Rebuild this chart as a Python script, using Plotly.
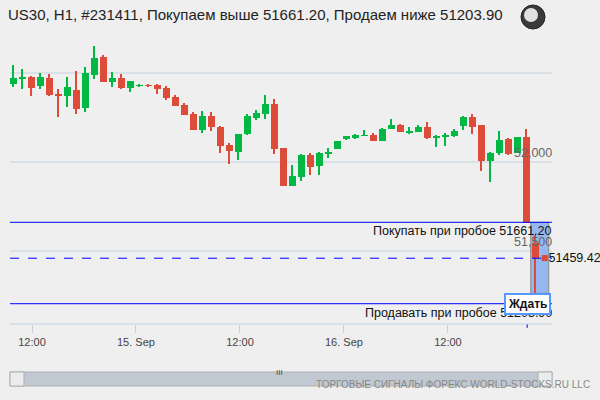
import plotly.graph_objects as go

OPEN = [52440,52468,52477.5,52428.6,52471.9,52382,52372.5,52404.5,52305,52490.4,
        52589.9,52451.1,52471.9,52417.4,52427,52432.6,52432.6,52415.7,52365.2,52320.2,
        52269.7,52181.5,52258.4,52196.6,52095.5,52057.9,52159,52248.9,52271.3,52325.8,
        52078.6,51866.9,51917.4,52039.3,51979.2,52046.6,52074.7,52129.2,52136.5,52147.7,
        52151.7,52119.7,52183.7,52207.8,52168.5,52170.2,52196.6,52138.8,52144.4,52147.7,
        52203.9,52252.8,52207.8,52007.3,52052.2,52129.2,52052.2,52140.4,51543.2]
CLOSE = [52470.2,52477.5,52417.4,52477.5,52378.1,52372.5,52421.3,52299.4,52500,52584.3,
         52451.1,52471.9,52417.4,52455,52432.6,52427,52411.8,52361.2,52316.3,52265.7,
         52181.5,52258.4,52198.3,52091.6,52063.5,52157.3,52258.4,52275.3,52325.8,52074.7,
         51866.9,51921.4,52039.3,51973.6,52050.5,52057.9,52118,52146.1,52151.7,52151.7,
         52119.7,52185.4,52207.8,52170.2,52174.1,52196.6,52136.5,52144.4,52153.4,52174.1,
         52252.8,52198.3,52007.3,52050.5,52123.6,52046.6,52140.4,51655.6,51459.42]
HIGH = [52544.9,52522.5,52483.1,52500,52494.4,52408.4,52477.5,52511.2,52533.7,52651.7,
        52601.1,52505.6,52494.4,52455,52438.2,52438.2,52438.2,52427,52376.4,52331.4,
        52280.9,52286.5,52280.9,52202.2,52106.7,52157.3,52269.7,52292.1,52376.4,52353.9,
        52078.6,51983.1,52044.9,52050.5,52056.2,52078.6,52118,52146.1,52157.3,52179.8,
        52162.9,52191,52241.6,52213.5,52196.6,52207.8,52224.7,52151.7,52162.9,52185.4,
        52258.4,52269.7,52207.8,52057.9,52174.1,52135.3,52140.4,52185.4,51589.9]
LOW = [52423,52411.8,52372.5,52411.8,52372.5,52254.5,52310.7,52271.3,52282.6,52468,
       52451.1,52423,52411.8,52394.9,52423,52423,52383.7,52350,52316.3,52265.7,
       52181.5,52164.6,52175.8,52052.2,51990.4,52012.9,52153.4,52237.6,52243.3,52046.6,
       51866.9,51866.9,51894.9,51928.7,51928.7,52024.1,52074.7,52123.6,52130.9,52146.1,
       52119.7,52119.7,52183.7,52170.2,52157.3,52170.2,52130.9,52086,52091.6,52142.1,
       52181.5,52159,51951.1,51889.3,52041,52041,52052.2,51655.6,51262.3]
TICK_LABELS = ["12:00", "15. Sep", "12:00", "16. Sep", "12:00"]
TICK_POS = [3.08, 14.63, 26.19, 37.74, 49.3]
BUY = 51661.20
SELL = 51203.90
PRICE = 51459.42
GRID = [52500, 52000, 51500]
GRID_LABELS = ["52,000", "51,500"]

GREEN = "#00b843"
RED = "#dd4b39"
BG = "#efefef"
Y0, Y1 = 51089.9, 52910.1
X0, X1 = 0.633, 60.86

idx = list(range(1, len(OPEN) + 1))
cols = [GREEN if c >= o else RED for o, c in zip(OPEN, CLOSE)]
body_base = [min(o, c) for o, c in zip(OPEN, CLOSE)]
body_h = [max(abs(c - o), 4) for o, c in zip(OPEN, CLOSE)]

fig = go.Figure()
fig.add_trace(go.Bar(x=idx, y=[h - l for h, l in zip(HIGH, LOW)], base=LOW,
                     width=0.14, marker=dict(color=cols, line_width=0), hoverinfo="skip"))
fig.add_trace(go.Bar(x=idx, y=body_h, base=body_base, width=0.76,
                     marker=dict(color=cols, line_width=0), hoverinfo="skip"))

def px(x): return (x - 10) / 542
def py(y): return (324 - y) / 324

shapes = []
for g in GRID:
    shapes.append(dict(type="line", xref="x", yref="y", x0=X0, x1=X1, y0=g, y1=g,
                       line=dict(color="#c4d0de", width=1), layer="below"))
for lv, d in [(BUY, "solid"), (SELL, "solid"), (PRICE, "dash")]:
    shapes.append(dict(type="line", xref="x", yref="y", x0=X0, x1=X1, y0=lv, y1=lv,
                       line=dict(color="#0000ff", width=1, dash=d)))
shapes.append(dict(type="rect", xref="x", yref="y", x0=58.5, x1=60.5, y0=BUY, y1=51262.3,
                   fillcolor="rgba(120,165,240,0.75)", line=dict(color="#888888", width=1),
                   layer="below"))
shapes.append(dict(type="line", xref="x", yref="paper", x0=58.1, x1=58.1, y0=0, y1=-0.012,
                   line=dict(color="#0000ff", width=1)))
shapes.append(dict(type="line", xref="paper", yref="paper", x0=0, x1=1, y0=0, y1=0,
                   line=dict(color="#c4d0de", width=1)))
shapes.append(dict(type="rect", xref="paper", yref="paper", x0=px(10), x1=px(552), y0=py(386), y1=py(372),
                   fillcolor="#c0c8d2", line=dict(color="#b0b0b0", width=1)))
shapes.append(dict(type="rect", xref="paper", yref="paper", x0=px(10), x1=px(24), y0=py(386), y1=py(372),
                   fillcolor="#ececec", line=dict(color="#b0b0b0", width=1)))
shapes.append(dict(type="rect", xref="paper", yref="paper", x0=px(538), x1=px(552), y0=py(386), y1=py(372),
                   fillcolor="#ececec", line=dict(color="#b0b0b0", width=1)))
shapes.append(dict(type="circle", xref="paper", yref="paper", x0=px(521), x1=px(545), y0=py(29), y1=py(5),
                   fillcolor="#3a3a3a", line=dict(color="#222222", width=1)))
shapes.append(dict(type="circle", xref="paper", yref="paper", x0=px(524), x1=px(538), y0=py(22), y1=py(8),
                   fillcolor="#e0e0e0", line=dict(width=0)))

F = "Liberation Sans, Arial, sans-serif"
ann = []
for g, t in zip(GRID[1:], GRID_LABELS):
    ann.append(dict(x=1, xref="paper", y=g, yref="y", text=t, showarrow=False, xshift=2,
                    xanchor="right", yanchor="bottom", font=dict(size=12.5, color="#666666")))
ann.append(dict(x=1, xref="paper", y=BUY, yref="y", text="Покупать при пробое 51661.20",
                showarrow=False, xanchor="right", yanchor="top", xshift=2, font=dict(size=12.5, color="#111111")))
ann.append(dict(x=1, xref="paper", y=SELL, yref="y", text="Продавать при пробое 51203.90",
                showarrow=False, xanchor="right", yanchor="top", xshift=2, font=dict(size=12.5, color="#111111")))
ann.append(dict(x=1.0, xref="paper", y=PRICE, yref="y", text="<span style='color:#dd4b39'>■</span>51459.42",
                showarrow=False, xanchor="left", xshift=-13, font=dict(size=12.5, color="#111111")))
ann.append(dict(x=58.1, xref="x", y=SELL, yref="y", text="<b>Ждать</b>", showarrow=False,
                font=dict(size=12, color="#111111"), bgcolor="#ffffff", bordercolor="#5599ff",
                borderwidth=2, borderpad=2))
ann.append(dict(x=0, xref="paper", y=1, yref="paper", yshift=-4, xshift=-4,
                text="US30, H1, #231411, Покупаем выше 51661.20, Продаем ниже 51203.90",
                showarrow=False, xanchor="left", yanchor="top",
                font=dict(size=15, color="#222222")))
ann.append(dict(x=px(279), xref="paper", y=py(379), yref="paper", text="III", showarrow=False,
                font=dict(size=8, color="#444444")))
ann.append(dict(x=px(592), xref="paper", y=py(392), yref="paper", text="ТОРГОВЫЕ СИГНАЛЫ ФОРЕКС WORLD-STOCKS.RU LLC",
                showarrow=False, xanchor="right", font=dict(size=10, color="#888888")))

fig.update_layout(
    width=600, height=400, margin=dict(l=10, r=48, t=0, b=76, autoexpand=False),
    paper_bgcolor=BG, plot_bgcolor=BG, showlegend=False, barmode="overlay",
    font=dict(family=F),
    shapes=shapes, annotations=ann,
    xaxis=dict(range=[X0, X1], tickvals=TICK_POS, ticktext=TICK_LABELS, showgrid=False,
               zeroline=False, ticks="outside", ticklen=8, tickcolor="#c4d0de", automargin=False,
               tickfont=dict(size=11, color="#444444")),
    yaxis=dict(range=[Y0, Y1], showgrid=False, zeroline=False, showticklabels=False, automargin=False),
    bargap=0,
)
fig.write_html("out.html", config={"displayModeBar": False},
               post_script="document.body.style.margin='0';document.body.style.background='#efefef';")
